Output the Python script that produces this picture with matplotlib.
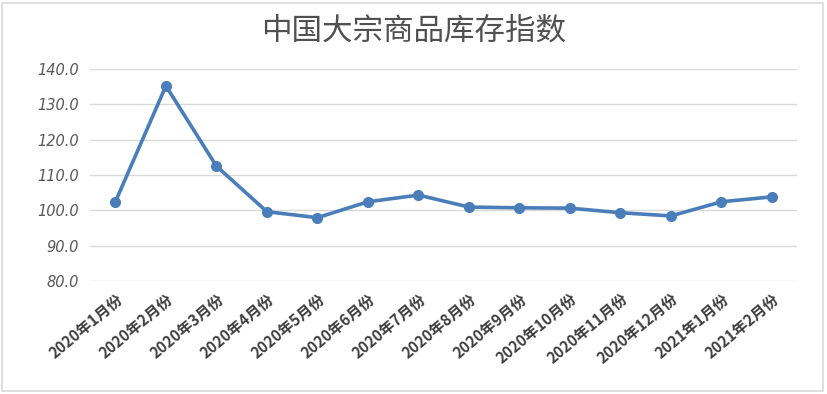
import matplotlib
matplotlib.use('Agg')
import matplotlib.pyplot as plt
from matplotlib.patches import Rectangle

plt.rcParams['font.family'] = ['Noto Sans CJK SC', 'DejaVu Sans']

# Data
months = ['2020年1月份', '2020年2月份', '2020年3月份', '2020年4月份', '2020年5月份',
          '2020年6月份', '2020年7月份', '2020年8月份', '2020年9月份', '2020年10月份',
          '2020年11月份', '2020年12月份', '2021年1月份', '2021年2月份']
index_vals = [102.4, 135.2, 112.5, 99.6, 97.9, 102.4, 104.3, 100.9, 100.7, 100.6,
              99.3, 98.4, 102.4, 103.8]
yticks = [80, 90, 100, 110, 120, 130, 140]

fig = plt.figure(figsize=(8.27, 3.94), dpi=100)
ax = fig.add_axes([0.109, 0.287, 0.855, 0.538])

x = list(range(len(months)))
ax.plot(x, index_vals, color='#4A7EBB', lw=2.6, marker='o', ms=7,
        solid_capstyle='round', zorder=3)

ax.set_xlim(-0.5, len(months) - 0.5)
ax.set_ylim(80, 140)
ax.set_yticks(yticks)
ax.set_yticklabels(['%.1f' % v for v in yticks], fontstyle='italic',
                   fontsize=10.5, color='#595959', family='DejaVu Sans')
ax.set_xticks(x)
ax.set_xticklabels(months, rotation=40, ha='right', va='top', rotation_mode='anchor',
                   fontsize=11, fontweight='bold', color='#404040')
ax.tick_params(axis='x', length=0, pad=7)
ax.tick_params(axis='y', length=0, pad=8)
ax.grid(axis='y', color='#D9D9D9', lw=1)
for s in ax.spines.values():
    s.set_visible(False)
ax.set_axisbelow(True)

fig.text(0.5, 0.922, '中国大宗商品库存指数', ha='center', va='center',
         fontsize=22, color='#505050')

fig.patches.append(Rectangle((0.003, 0.008), 0.992, 0.984, transform=fig.transFigure,
                             fill=False, edgecolor='#D9D9D9', lw=1.2))

fig.savefig('out.png', dpi=100, facecolor='white')
